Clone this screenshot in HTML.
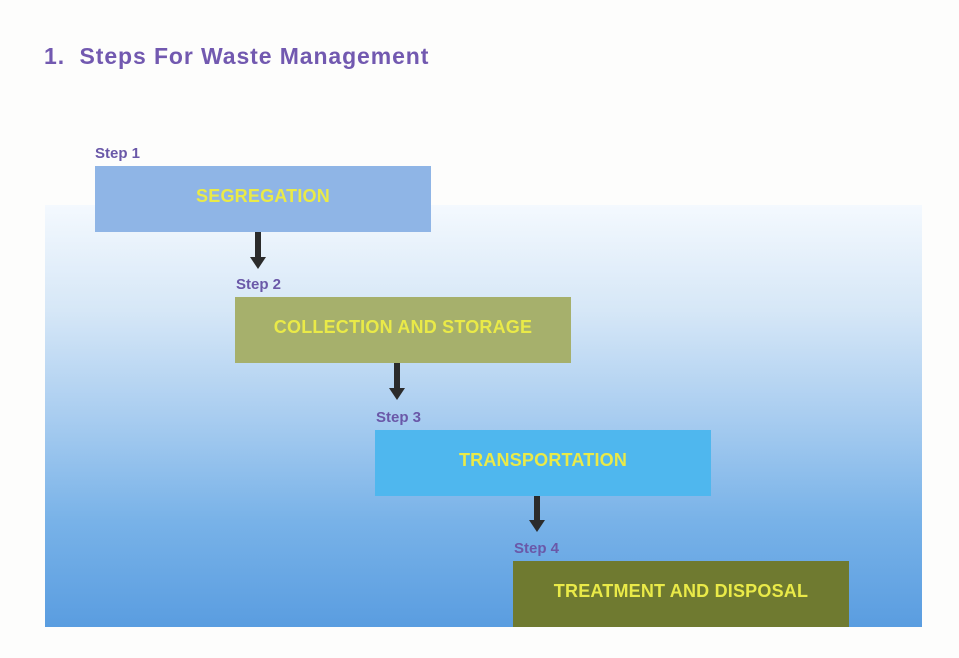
<!DOCTYPE html>
<html><head><style>
body{margin:0;width:959px;height:658px;background:#fdfdfc;position:relative;overflow:hidden;font-family:"Liberation Sans",sans-serif}
.bg{position:absolute;left:45px;top:205px;width:877px;height:422px;background:linear-gradient(180deg,#f4f9fe 0%,#d6e7f7 25%,#a9cdf0 50%,#78b2e8 75%,#5a9de0 100%)}
.t{position:absolute;left:44px;top:43px;font-size:23px;font-weight:bold;color:#7259b0;letter-spacing:0.9px}
.s{position:absolute;font-size:15px;font-weight:bold;color:#6a58a8}
.b{position:absolute;width:336px;height:66px;color:#eaea48;font-size:18px;font-weight:bold;display:flex;align-items:center;justify-content:center;padding-bottom:6px;box-sizing:border-box;letter-spacing:0.2px}
.a{position:absolute;width:6px;background:#2b2b2b}
.h{position:absolute;width:0;height:0;border-left:8px solid transparent;border-right:8px solid transparent;border-top:12px solid #2b2b2b}
</style></head><body>
<div class="bg"></div>
<div class="t">1.&nbsp; Steps For Waste Management</div>
<div class="s" style="left:95px;top:145px">Step 1</div>
<div class="b" style="left:95px;top:166px;background:#8fb5e6">SEGREGATION</div>
<div class="a" style="left:255px;top:232px;height:26px"></div><div class="h" style="left:250px;top:257px"></div>
<div class="s" style="left:236px;top:276px">Step 2</div>
<div class="b" style="left:235px;top:297px;background:#a6b06c">COLLECTION AND STORAGE</div>
<div class="a" style="left:394px;top:363px;height:26px"></div><div class="h" style="left:389px;top:388px"></div>
<div class="s" style="left:376px;top:409px">Step 3</div>
<div class="b" style="left:375px;top:430px;background:#4fb7ee">TRANSPORTATION</div>
<div class="a" style="left:534px;top:496px;height:25px"></div><div class="h" style="left:529px;top:520px"></div>
<div class="s" style="left:514px;top:540px">Step 4</div>
<div class="b" style="left:513px;top:561px;background:#6f7a30">TREATMENT AND DISPOSAL</div>
</body></html>
